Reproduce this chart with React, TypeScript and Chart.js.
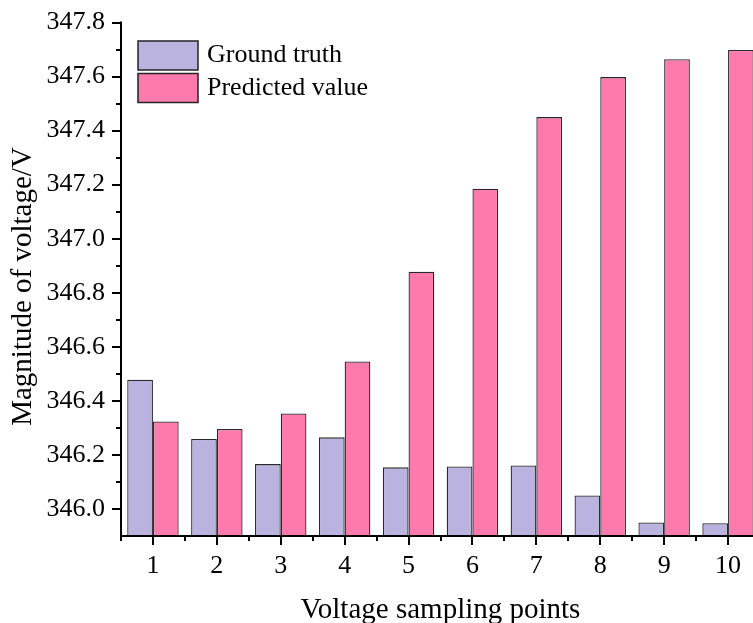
import React, { useEffect, useRef } from "react";
import { Chart, registerables } from "chart.js";

Chart.register(...registerables);

// ---- data ----
const categories = ["1", "2", "3", "4", "5", "6", "7", "8", "9", "10"];
const groundTruth = [346.478, 346.259, 346.166, 346.265, 346.154, 346.157, 346.161, 346.05, 345.95, 345.947];
const predicted = [346.324, 346.296, 346.353, 346.546, 346.878, 347.185, 347.45, 347.598, 347.664, 347.698];
const yTickValues = [346.0, 346.2, 346.4, 346.6, 346.8, 347.0, 347.2, 347.4, 347.6, 347.8];
const yMin = 345.9;
const yMax = 347.8;
const seriesLabels = ["Ground truth", "Predicted value"];
const seriesColors = ["#BAB3E0", "#FF7AAC"];
const xTitle = "Voltage sampling points";
const yTitle = "Magnitude of voltage/V";

const FONT = "'Liberation Serif', 'Times New Roman', serif";
const CANVAS_W = 760;
const CANVAS_H = 628;
const AXIS_BOTTOM = 536;

const axesPlugin = {
  id: "customAxes",
  afterDatasetsDraw(chart: any) {
    const { ctx, chartArea } = chart;
    const { left, right, top, bottom } = chartArea;
    const yScale = chart.scales.y;
    const xScale = chart.scales.x;
    ctx.save();
    ctx.strokeStyle = "#000";
    ctx.lineWidth = 2;
    ctx.lineCap = "butt";
    ctx.beginPath();
    ctx.moveTo(left, top - 1);
    ctx.lineTo(left, bottom + 1);
    ctx.moveTo(left - 1, bottom);
    ctx.lineTo(right, bottom);
    yTickValues.forEach((v) => {
      const py = Math.round(yScale.getPixelForValue(v));
      ctx.moveTo(left - 9, py);
      ctx.lineTo(left, py);
    });
    const minors: number[] = [];
    for (let i = 0; i < yTickValues.length - 1; i++) minors.push((yTickValues[i] + yTickValues[i + 1]) / 2);
    minors.forEach((v) => {
      const py = Math.round(yScale.getPixelForValue(v));
      ctx.moveTo(left - 5, py);
      ctx.lineTo(left, py);
    });
    categories.forEach((_, i) => {
      const px = Math.round(xScale.getPixelForValue(i));
      ctx.moveTo(px, bottom);
      ctx.lineTo(px, bottom + 9);
    });
    for (let i = 0; i <= categories.length; i++) {
      const px = Math.round(xScale.getPixelForValue(i - 0.5));
      ctx.moveTo(px, bottom);
      ctx.lineTo(px, bottom + 5);
    }
    ctx.stroke();
    ctx.restore();
  },
};

const legendPlugin = {
  id: "insideLegend",
  afterDraw(chart: any) {
    const { ctx } = chart;
    const x0 = 138;
    const y0 = 41;
    const bw = 60;
    const bh = 29;
    const gap = 32.5;
    ctx.save();
    chart.data.datasets.forEach((ds: any, i: number) => {
      const y = y0 + i * gap;
      ctx.fillStyle = ds.backgroundColor;
      ctx.fillRect(x0, y, bw, bh);
      ctx.strokeStyle = "#222";
      ctx.lineWidth = 1.5;
      ctx.strokeRect(x0, y, bw, bh);
      ctx.fillStyle = "#000";
      ctx.font = `26px ${FONT}`;
      ctx.textBaseline = "middle";
      ctx.textAlign = "left";
      ctx.fillText(ds.label, 207, y + bh / 2);
    });
    ctx.restore();
  },
};

export default function App() {
  const canvasRef = useRef<HTMLCanvasElement | null>(null);

  useEffect(() => {
    const canvas = canvasRef.current;
    if (!canvas) return;
    const chart = new Chart(canvas, {
      type: "bar",
      data: {
        labels: categories,
        datasets: [
          {
            label: seriesLabels[0],
            data: groundTruth,
            backgroundColor: seriesColors[0],
            borderColor: "#2a2a2a",
            borderWidth: 1.3,
            borderSkipped: false,
            categoryPercentage: 0.805,
            barPercentage: 1,
          },
          {
            label: seriesLabels[1],
            data: predicted,
            backgroundColor: seriesColors[1],
            borderColor: "#2a2a2a",
            borderWidth: 1.3,
            borderSkipped: false,
            categoryPercentage: 0.805,
            barPercentage: 1,
          },
        ],
      },
      options: {
        animation: false,
        responsive: false,
        devicePixelRatio: 1,
        layout: { padding: { top: 22.5, left: 0, right: 0, bottom: 0 } },
        plugins: {
          legend: { display: false },
          tooltip: { enabled: false },
        },
        scales: {
          x: {
            type: "category",
            offset: true,
            grid: { display: false, drawTicks: false },
            border: { display: false },
            ticks: {
              color: "#000",
              font: { family: FONT, size: 26 },
              padding: 15,
              maxRotation: 0,
              autoSkip: false,
            },
            title: {
              display: true,
              text: xTitle,
              color: "#000",
              font: { family: FONT, size: 29 },
              padding: { top: 0, bottom: 0 },
            },
            afterFit: (scale: any) => {
              scale.height = CANVAS_H - AXIS_BOTTOM;
              scale.paddingLeft = 0;
              scale.paddingRight = 0;
            },
          },
          y: {
            type: "linear",
            min: yMin,
            max: yMax,
            beginAtZero: false,
            grid: { display: false, drawTicks: false },
            border: { display: false },
            ticks: {
              color: "#000",
              font: { family: FONT, size: 26 },
              padding: 16,
              callback: (v: any) => Number(v).toFixed(1),
            },
            afterBuildTicks: (scale: any) => {
              scale.ticks = yTickValues.map((v) => ({ value: v }));
            },
            title: {
              display: true,
              text: yTitle + "  ",
              color: "#000",
              font: { family: FONT, size: 29 },
              padding: { top: 6, bottom: 0 },
            },
            afterFit: (scale: any) => {
              scale.width = 121;
              scale.paddingTop = 0;
              scale.paddingBottom = 0;
            },
          },
        },
      },
      plugins: [axesPlugin, legendPlugin],
    } as any);
    return () => chart.destroy();
  }, []);

  return (
    <div
      style={{
        position: "fixed",
        left: 0,
        top: 0,
        width: 753,
        height: 623,
        overflow: "hidden",
        background: "#fff",
      }}
    >
      <canvas ref={canvasRef} width={CANVAS_W} height={CANVAS_H} style={{ display: "block" }} />
    </div>
  );
}
